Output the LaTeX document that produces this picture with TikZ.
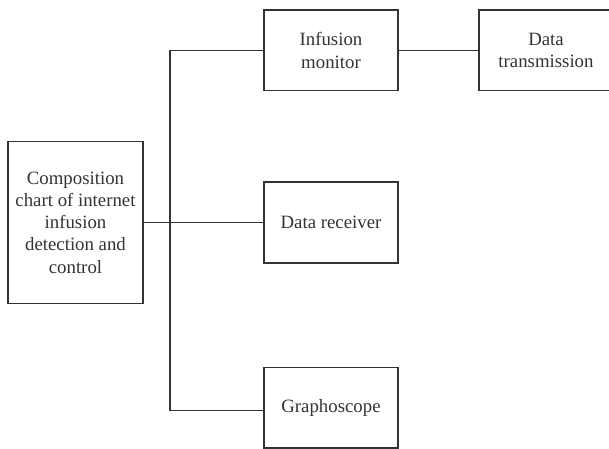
\documentclass[tikz,border=0pt]{standalone}
\usepackage{fontspec}
\setmainfont{Liberation Serif}
\definecolor{ink}{HTML}{333333}
\begin{document}
\begin{tikzpicture}[x=1bp,y=-1bp,
  box/.style={draw=ink, line width=1.3bp, rectangle, inner sep=0pt, align=center,
    text=ink, font=\fontsize{18.8bp}{22.2bp}\selectfont, minimum width=134bp},
  conn/.style={draw=ink, line width=1.3bp}]
\useasboundingbox (0,0) rectangle (609,449);
\node[box, minimum width=135bp, minimum height=161.5bp] (comp) at (75.5,222.5)
  {Composition\\chart of internet\\infusion\\detection and\\control};
\node[box, minimum height=80.7bp] (mon) at (331,50.4) {Infusion\\monitor};
\node[box, minimum height=80.7bp] (dt) at (546,50.4) {Data\\transmission};
\node[box, minimum height=81bp] (rec) at (331,222.5) {Data receiver};
\node[box, minimum height=80.3bp] (gra) at (331,407.9) {Graphoscope};
\coordinate (j1) at (170,50.7);
\coordinate (j3) at (170,410.7);
\draw[conn] (j3) -- (j1) -- (j1 -| mon.west);
\draw[conn] (comp.east) -- (rec.west);
\draw[conn] (mon.east) -- (dt.west);
\draw[conn] (j3) -- (j3 -| gra.west);
\end{tikzpicture}
\end{document}
